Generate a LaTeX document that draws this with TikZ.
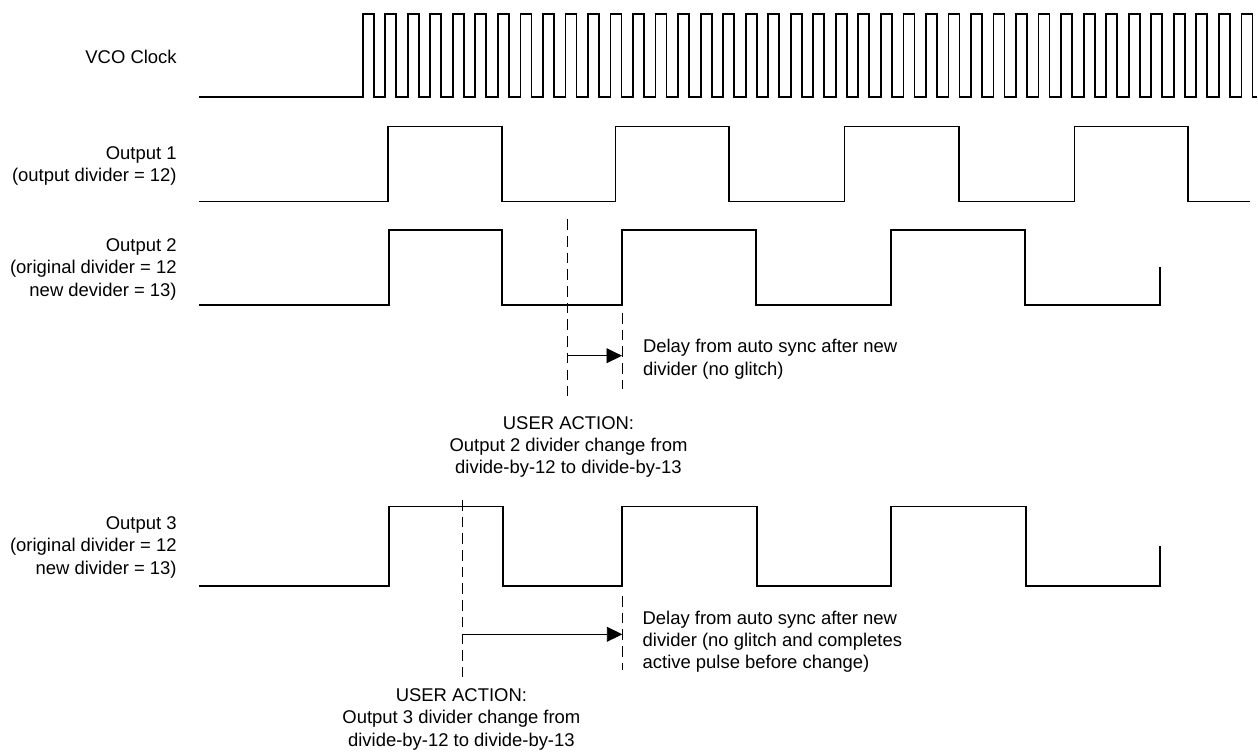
\documentclass[tikz,border=0pt]{standalone}
\usepackage{fontspec}
\setmainfont{Liberation Sans}
\usepackage{tikz}
\usetikzlibrary{arrows.meta, positioning}
\tikzstyle{sigline}=[line width=1pt, black]
\tikzstyle{vguide}=[line width=0.5pt, dash pattern=on 6pt off 3.5pt]
\tikzstyle{dlyarr}=[-{Triangle[length=8.8pt, width=8.5pt]}, line width=0.5pt]
\tikzstyle{lbl}=[inner sep=0pt, font=\fontsize{10.5}{12.6}\selectfont]

\begin{document}
\begin{tikzpicture}[x=0.02cm, y=-0.02cm]
  \useasboundingbox (0,0) rectangle (1258,751);

  % signal names (base = last line)
  \node[lbl, anchor=base east] (lblvco) at (177,63.3) {VCO Clock};
  \node[lbl, anchor=base east, align=right] (lblout1) at (177,181.7)
    {Output 1\\(output divider = 12)};
  \node[lbl, anchor=base east, align=right] (lblout2) at (177,296)
    {Output 2\\(original divider = 12\\new devider = 13)};
  \node[lbl, anchor=base east, align=right] (lblout3) at (177,574)
    {Output 3\\(original divider = 12\\new divider = 13)};

  % VCO clock
  \draw[sigline] (199.3,97.3)
    foreach \k in {0,...,39}{ -| ({362.7+22.53*\k},14) -| ({373.7+22.53*\k},97.3) }
    -- (1257,97.3);

  % output 1
  \draw[sigline] (199.3,201.5) -| (388.3,126.5) -| (502,201.5) -| (615.5,126.5)
    -| (728.8,201.5) -| (844.6,126.5) -| (958.8,201.5) -| (1074.5,126.5)
    -| (1187.8,201.5) -- (1249.5,201.5);

  % output 2
  \draw[sigline] (199.3,305) -| (389.3,230) -| (502.3,305) -| (622,230)
    -| (756,305) -| (891,230) -| (1025.3,305) -| (1160,266.7);

  % output 3
  \draw[sigline] (199.3,586) -| (389.3,506.5) -| (502.7,586) -| (622.3,506.5)
    -| (756.7,586) -| (890.7,506.5) -| (1026,586) -| (1160.2,545.7);

  % output 2 divider change
  \coordinate (ua2top) at (567.7,219.3);
  \coordinate (ua2bot) at (567.7,396);
  \coordinate (sy2top) at (622,313);
  \coordinate (sy2bot) at (622,389);
  \draw[vguide] (ua2top) -- (ua2bot);
  \draw[vguide] (sy2top) -- (sy2bot);
  \coordinate (ua2arr) at (567.7,355.7);
  \coordinate (sy2arr) at (622,355.7);
  \draw[dlyarr] (ua2arr) -- (sy2arr);
  \node[lbl, anchor=base west, align=left] (dly2) at (642.7,375)
    {Delay from auto sync after new\\divider (no glitch)};
  \node[lbl, anchor=base, align=center] (act2) at (568.5,473.3)
    {USER ACTION:\\Output 2 divider change from\\divide-by-12 to divide-by-13};

  % output 3 divider change
  \coordinate (ua3top) at (462.3,500);
  \coordinate (ua3bot) at (462.3,677);
  \coordinate (sy3top) at (622.3,596);
  \coordinate (sy3bot) at (622.3,670);
  \draw[vguide] (ua3top) -- (ua3bot);
  \draw[vguide] (sy3top) -- (sy3bot);
  \coordinate (ua3arr) at (462.3,634.3);
  \coordinate (sy3arr) at (622.3,634.3);
  \draw[dlyarr] (ua3arr) -- (sy3arr);
  \node[lbl, anchor=base west, align=left] (dly3) at (642.3,668.3)
    {Delay from auto sync after new\\divider (no glitch and completes\\active pulse before change)};
  \node[lbl, anchor=base, align=center] (act3) at (461.4,746)
    {USER ACTION:\\Output 3 divider change from\\divide-by-12 to divide-by-13};
\end{tikzpicture}
\end{document}
